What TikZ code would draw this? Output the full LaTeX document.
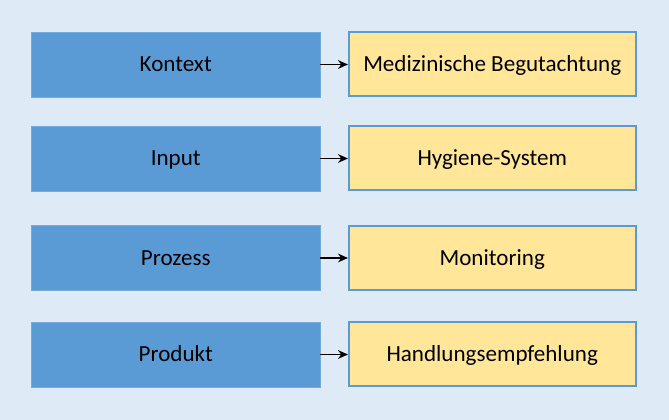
\documentclass[tikz,border=0pt]{standalone}
\usepackage{fontspec}
\setmainfont{Carlito}
\usetikzlibrary{arrows.meta}
\definecolor{bgblue}{HTML}{DEEBF7}
\definecolor{boxblue}{HTML}{5B9BD5}
\definecolor{boxyellow}{HTML}{FFE699}
\tikzset{
	stagebox/.style={draw=boxblue!85!white, fill=boxblue, line width=0.6pt,
		minimum width=288.5*0.75pt, minimum height=65*0.75pt, inner sep=0pt,
		text height=11pt, text depth=0pt,
		font=\fontsize{17.3}{20}\selectfont}
}
\tikzset{
	toolbox/.style={draw=boxblue, fill=boxyellow, line width=1.5pt,
		minimum width=286.5*0.75pt, minimum height=64*0.75pt, inner sep=0pt,
		text height=11pt, text depth=0pt,
		font=\fontsize{17.3}{20}\selectfont}
}
\begin{document}
\begin{tikzpicture}[x=0.75pt, y=-0.75pt, >={Stealth[length=7.5pt,width=6.5pt]}]
      \fill[bgblue] (0,0) rectangle (669,420);
      \useasboundingbox (0,0) rectangle (669,420);
      % stages and tools
      \foreach \i/\y/\s/\t in {1/64.5/Kontext/Medizinische Begutachtung, 2/158.5/Input/Hygiene-System,
        3/258/Prozess/Monitoring, 4/354.5/Produkt/Handlungsempfehlung}
        {\node[stagebox] (stage\i) at (175.75,\y) {\s};
         \node[toolbox] (tool\i) at (492.25,\y) {\t};
         \draw[->, line width=1.1pt] (stage\i) -- (tool\i);}
    \end{tikzpicture}
\end{document}
